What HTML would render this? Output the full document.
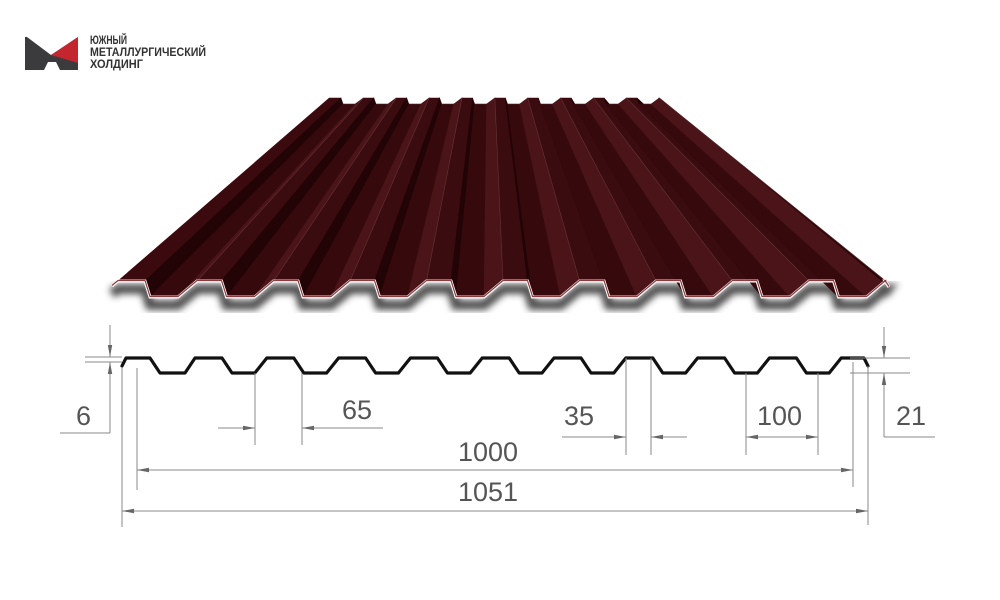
<!DOCTYPE html>
<html><head><meta charset="utf-8"><style>
html,body{margin:0;padding:0;background:#fff;}
svg{display:block;}
text{font-family:"Liberation Sans",sans-serif;}
</style></head><body>
<svg id="s" width="1000" height="600" viewBox="0 0 1000 600" xmlns="http://www.w3.org/2000/svg">
<defs>
<filter id="bl" x="-10%" y="-50%" width="120%" height="200%"><feGaussianBlur stdDeviation="3.5"/></filter>
<marker id="ar" viewBox="0 0 12 6" refX="12" refY="3" markerWidth="16" markerHeight="6" orient="auto" markerUnits="userSpaceOnUse"><path d="M0,0.8 L12,3 L0,5.2 z" fill="#666"/></marker>
</defs>
<!-- logo -->
<rect x="25" y="37" width="53" height="33" fill="#3b3b3d"/>
<polygon points="27,37 78,37 51,55" fill="#fff"/>
<polygon points="51,55 78,37 78,63" fill="#c4262e"/>
<polygon points="44,70 48,62 56,62 60,70" fill="#fff"/>
<g font-size="11.5" font-weight="bold" fill="#333">
<text x="90" y="44" textLength="37" lengthAdjust="spacingAndGlyphs">ЮЖНЫЙ</text>
<text x="90" y="56" textLength="116" lengthAdjust="spacingAndGlyphs">МЕТАЛЛУРГИЧЕСКИЙ</text>
<text x="90" y="68" textLength="53" lengthAdjust="spacingAndGlyphs">ХОЛДИНГ</text>
</g>
<g id="sheet"></g>
<g id="prof"></g>
<g stroke="#8a8a8a" stroke-width="1" fill="none">
<line x1="110" y1="325" x2="110" y2="357" marker-end="url(#ar)"/>
<line x1="110" y1="395" x2="110" y2="362" marker-end="url(#ar)"/>
<line x1="110" y1="395" x2="110" y2="433"/>
<line x1="60" y1="433" x2="110" y2="433"/>
<line x1="85" y1="357" x2="122" y2="357"/>
<line x1="85" y1="362" x2="122" y2="362"/>
<line x1="255" y1="373" x2="255" y2="445"/>
<line x1="302" y1="373" x2="302" y2="445"/>
<line x1="218" y1="428" x2="255" y2="428" marker-end="url(#ar)"/>
<line x1="383" y1="428" x2="302" y2="428" marker-end="url(#ar)"/>
<line x1="626" y1="358" x2="626" y2="455"/>
<line x1="651" y1="358" x2="651" y2="455"/>
<line x1="562" y1="437" x2="626" y2="437" marker-end="url(#ar)"/>
<line x1="687" y1="437" x2="651" y2="437" marker-end="url(#ar)"/>
<line x1="746" y1="373" x2="746" y2="455"/>
<line x1="818" y1="373" x2="818" y2="455"/>
<line x1="782" y1="437" x2="746" y2="437" marker-end="url(#ar)"/>
<line x1="782" y1="437" x2="818" y2="437" marker-end="url(#ar)"/>
<line x1="884" y1="327" x2="884" y2="358" marker-end="url(#ar)"/>
<line x1="884" y1="405" x2="884" y2="373" marker-end="url(#ar)"/>
<line x1="884" y1="405" x2="884" y2="437"/>
<line x1="884" y1="437" x2="935" y2="437"/>
<line x1="850" y1="358" x2="910" y2="358"/>
<line x1="850" y1="373" x2="910" y2="373"/>
<line x1="137" y1="368" x2="137" y2="490"/>
<line x1="853" y1="362" x2="853" y2="487"/>
<line x1="490" y1="470" x2="137" y2="470" marker-end="url(#ar)"/>
<line x1="490" y1="470" x2="853" y2="470" marker-end="url(#ar)"/>
<line x1="122" y1="368" x2="122" y2="527"/>
<line x1="868" y1="366" x2="868" y2="525"/>
<line x1="490" y1="511" x2="122" y2="511" marker-end="url(#ar)"/>
<line x1="490" y1="511" x2="868" y2="511" marker-end="url(#ar)"/>
</g>
<g fill="#555" font-size="27">
<text x="76" y="425">6</text>
<text x="342" y="419">65</text>
<text x="564" y="425">35</text>
<text x="757" y="425">100</text>
<text x="896" y="425">21</text>
<text x="458" y="461">1000</text>
<text x="458" y="501">1051</text>
</g>
</svg>
<script>
var NS="http://www.w3.org/2000/svg";
function el(p,t,a){var e=document.createElementNS(NS,t);for(var k in a)e.setAttribute(k,a[k]);p.appendChild(e);return e;}
var F=[[112,286],[118,281]];
for(var k=0;k<10;k++){var d=145+76.5*k;F.push([d,281],[d+5,297],[d+33,297],[d+52,281]);}
F.push([885,281],[889,287]);
var FY0=281;
function back(p){return [328+(p[0]-115)*0.43, 98+(p[1]-FY0)*0.38];}
var sh=document.getElementById('sheet');
var sp=F.map(function(p){return p[0]+','+(p[1]+8);}).join(' ');
el(sh,'polyline',{points:sp,fill:'none',stroke:'#333','stroke-width':10,filter:'url(#bl)',opacity:0.85});
for(var i=1;i<F.length-2;i++){
 var a=F[i],b=F[i+1],ba=back(a),bb=back(b);
 var c;
 if(i==1)c='#3a0a0e';else{var m=(i-2)%4;c=['#220306','#360a0d','#4a1418','#3a0b0f'][m];}
 el(sh,'polygon',{points:[a,b,bb,ba].map(function(p){return p.join(',');}).join(' '),fill:c,stroke:c,'stroke-width':0.6});
}
var bl=back(F[1]),br=back(F[F.length-2]);
el(sh,'polygon',{points:'112,286 118,281 '+bl.join(',')+' '+(bl[0]-2)+','+(bl[1]+2),fill:'#5a0c10'});
el(sh,'polygon',{points:'885,281 889,287 '+(br[0]+2)+','+(br[1]+1)+' '+br.join(','),fill:'#2a0407'});
for(var k=0;k<10;k++){var d=145+76.5*k;var p=[d+52,281],q=back(p);
 el(sh,'line',{x1:p[0],y1:p[1],x2:q[0],y2:q[1],stroke:'#7a4a4c','stroke-width':0.7,opacity:0.6});}
el(sh,'polyline',{points:F.map(function(p){return p.join(',');}).join(' '),fill:'none',stroke:'#fff','stroke-width':3});
el(sh,'polyline',{points:F.map(function(p){return p[0]+','+(p[1]-0.5);}).join(' '),fill:'none',stroke:'#8e3a3e','stroke-width':1.2});
var P=[[122,366],[126,358],[150,358],[160,373],[185,373]];
for(var k=0;k<10;k++){var c=195+71.8*k;
 if(k>0){P.push([c-12,373]);}
 P.push([c,358]);
 if(k<9){P.push([c+27,358],[c+37,373]);}
}
P.push([864,358],[868,366]);
el(document.getElementById('prof'),'polyline',{points:P.map(function(p){return p.join(',');}).join(' '),fill:'none',stroke:'#111','stroke-width':3.2,'stroke-linejoin':'round','stroke-linecap':'round'});
</script>
</body></html>
